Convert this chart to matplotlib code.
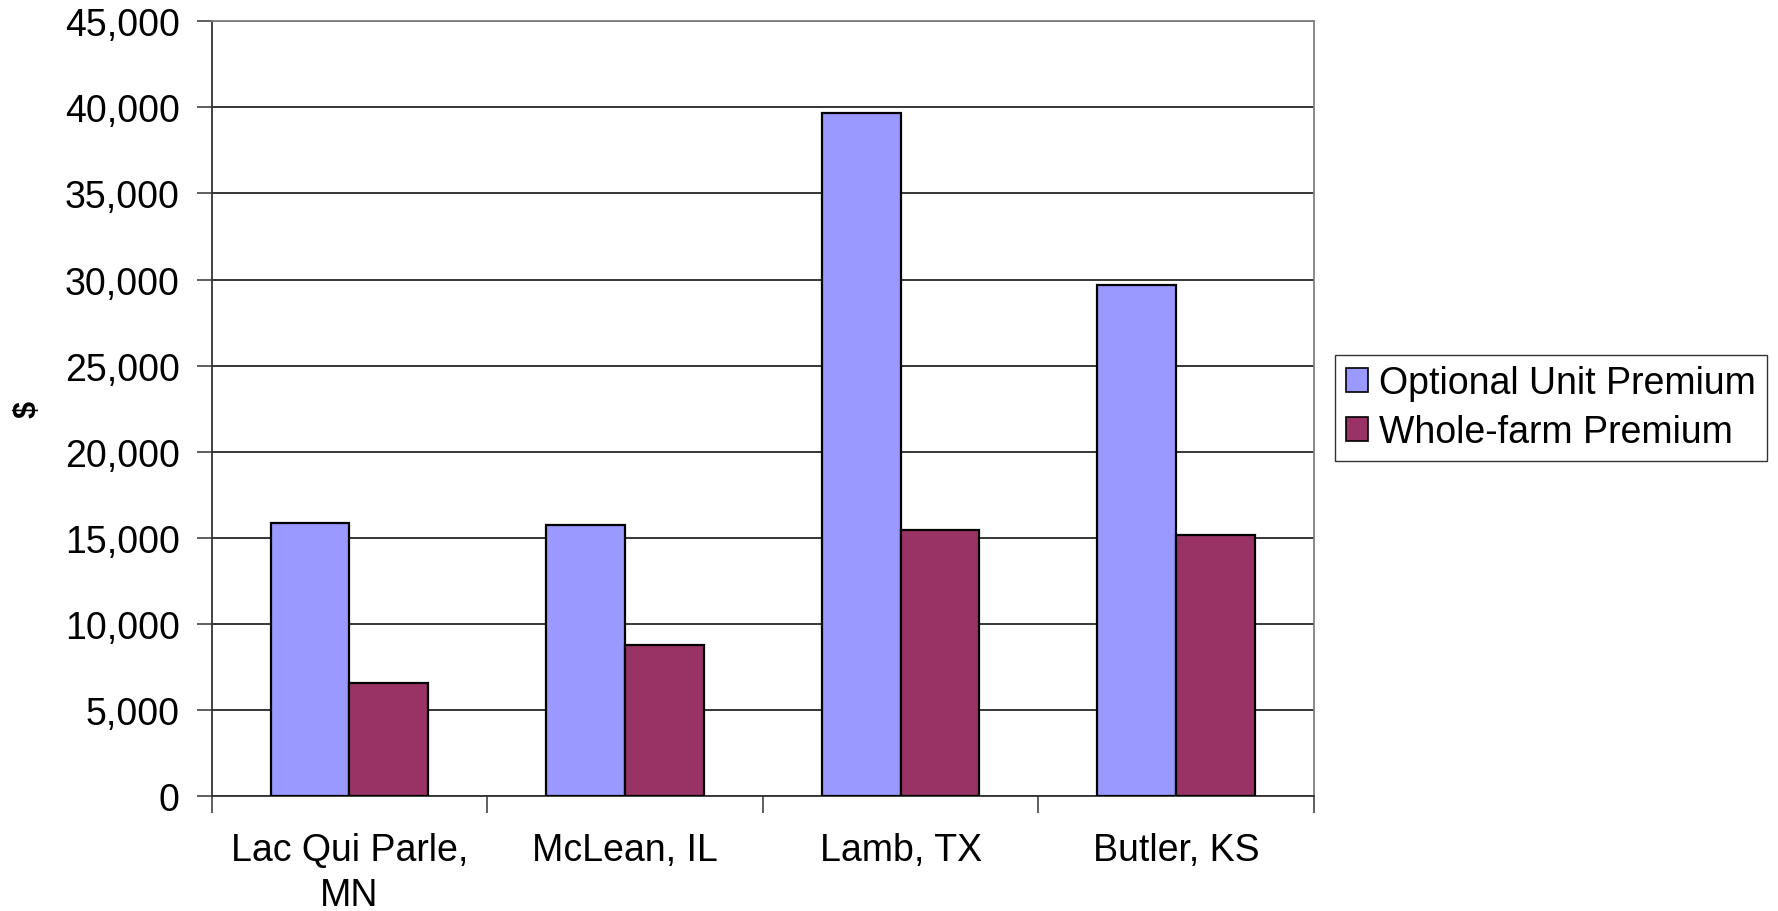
import matplotlib
matplotlib.use("Agg")
import matplotlib.pyplot as plt
from matplotlib.ticker import FuncFormatter, FixedLocator
from matplotlib.patches import Patch
import numpy as np

plt.rcParams['font.family'] = ['Liberation Sans', 'DejaVu Sans']

# Counties and premium values ($)
counties = ["Lac Qui Parle,\nMN", "McLean, IL", "Lamb, TX", "Butler, KS"]
optional_unit = [15870, 15720, 39650, 29700]
whole_farm = [6560, 8750, 15480, 15150]
series_names = ["Optional Unit Premium", "Whole-farm Premium"]
colors = ["#9999FF", "#993366"]

W, H = 1778, 912
fig = plt.figure(figsize=(W / 100, H / 100), dpi=100)
left, right, top, bottom = 211.7, 1314, 22.3, 797
ax = fig.add_axes([left / W, 1 - bottom / H, (right - left) / W, (bottom - top) / H])

x = np.arange(len(counties))
w = 1 / 3.5  # Excel-style gap width of 150%
ax.bar(x - w / 2, optional_unit, width=w, color=colors[0], edgecolor="black",
       linewidth=1.6, zorder=3)
ax.bar(x + w / 2, whole_farm, width=w, color=colors[1], edgecolor="black",
       linewidth=1.6, zorder=3)

ax.set_xlim(-0.5, len(counties) - 0.5)
ax.set_ylim(0, 45000)
ax.set_yticks(np.arange(0, 45001, 5000))
ax.yaxis.set_major_formatter(FuncFormatter(lambda v, p: f"{int(v):,}"))
ax.grid(axis="y", color="black", linewidth=1.1, zorder=0)

# Category boundary ticks with labels centred between them
ax.xaxis.set_major_locator(FixedLocator(np.arange(-0.5, len(counties), 1.0)))
ax.xaxis.set_minor_locator(FixedLocator(x))
ax.set_xticklabels([""] * (len(counties) + 1))
ax.set_xticklabels(counties, minor=True, linespacing=1.33)
ax.tick_params(axis="x", which="major", length=12, width=1.1, color="#333333", direction="out")
ax.tick_params(axis="x", which="minor", length=0, pad=26, labelsize=27)
ax.tick_params(axis="y", length=11, width=1.1, color="#333333", pad=12, labelsize=27)

for side in ["left", "bottom"]:
    ax.spines[side].set_color("#333333")
    ax.spines[side].set_linewidth(1.3)
for side in ["right", "top"]:
    ax.spines[side].set_color("#808080")
    ax.spines[side].set_linewidth(1.3)

fig.text(28 / W, 1 - 410 / H, "$", rotation=90, fontsize=22, fontweight="bold",
         ha="center", va="center")

handles = [Patch(facecolor=c, edgecolor="black", linewidth=1.2) for c in colors]
leg = fig.legend(handles, series_names, loc="upper left",
                 bbox_to_anchor=(1335 / W, 1 - 355.7 / H),
                 fontsize=27, frameon=True, fancybox=False, edgecolor="black",
                 handlelength=0.61, handleheight=0.61, handletextpad=0.29,
                 borderpad=0.28, labelspacing=0.35, borderaxespad=0)
leg.get_frame().set_linewidth(1.0)

fig.savefig("out.png", dpi=100, facecolor="white")
